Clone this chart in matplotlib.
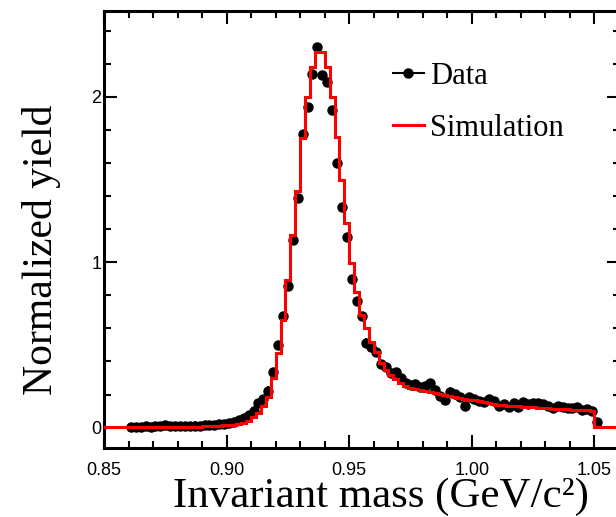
import numpy as np
import matplotlib
matplotlib.use("Agg")
import matplotlib.pyplot as plt
from matplotlib.ticker import MultipleLocator, FormatStrFormatter

# simulation histogram, 0.002 GeV bins from 0.850 to 1.060
sim_edges = np.round(np.arange(0.850, 1.0601, 0.002), 3)
sim_vals = [
    0.002, 0.002, 0.002, 0.002, 0.002, 0.002, 0.002, 0.002, 0.002, 0.002,
    0.002, 0.003, 0.003, 0.003, 0.003,
    0.004, 0.004, 0.005, 0.006, 0.007, 0.008, 0.009, 0.011, 0.012, 0.014,
    0.015, 0.018, 0.022, 0.030,
    0.042, 0.063, 0.087, 0.131, 0.187, 0.298, 0.450, 0.651, 0.892, 1.164,
    1.432, 1.749, 1.996, 2.181, 2.272, 2.272, 2.177, 1.996, 1.758, 1.497,
    1.239, 0.997, 0.822, 0.680, 0.600, 0.520, 0.460, 0.390, 0.350, 0.320,
    0.294, 0.268, 0.250, 0.238,
    0.232, 0.226, 0.220, 0.214, 0.208, 0.203, 0.198, 0.193, 0.187, 0.181,
    0.175, 0.170, 0.166, 0.161, 0.156, 0.150, 0.144, 0.138, 0.135, 0.132,
    0.130, 0.128, 0.126, 0.124, 0.122, 0.120, 0.119, 0.117, 0.115, 0.114,
    0.112, 0.110, 0.108, 0.107, 0.106, 0.104, 0.102,
    0.006, 0.006, 0.006, 0.006, 0.006,
]

# data points, bin centres from 0.861 GeV
data_start = 0.861
data_vals = [
    0.004, 0.002, 0.006, 0.008, 0.006, 0.010, 0.008, 0.018, 0.012, 0.010,
    0.008, 0.012, 0.010, 0.013, 0.012, 0.015, 0.018, 0.016, 0.020, 0.024,
    0.026, 0.032, 0.045, 0.060, 0.075, 0.103, 0.147, 0.171, 0.224, 0.338,
    0.500, 0.675, 0.856, 1.134, 1.386, 1.773, 1.940, 2.135, 2.302, 2.130,
    2.090, 1.920, 1.600, 1.335, 1.154, 0.897, 0.764, 0.673, 0.514, 0.486,
    0.460, 0.385, 0.369, 0.332, 0.338, 0.298, 0.270, 0.258, 0.264, 0.248,
    0.252, 0.268, 0.228, 0.190, 0.167, 0.218, 0.204, 0.187, 0.131, 0.183,
    0.171, 0.163, 0.157, 0.173, 0.163, 0.131, 0.143, 0.123, 0.151, 0.127,
    0.157, 0.143, 0.147, 0.151, 0.143, 0.131, 0.117, 0.131, 0.123, 0.117,
    0.117, 0.127, 0.107, 0.112, 0.100, 0.036,
]
data_err = 0.025
data_mass = np.round(data_start + 0.002 * np.arange(len(data_vals)), 3)

fig = plt.figure(figsize=(6.16, 5.17), dpi=100)
ax = fig.add_axes([0.1688, 0.1335, 0.8377, 0.8452])

ax.stairs(sim_vals, sim_edges, color="red", lw=2.2, zorder=3)
ax.errorbar(data_mass, data_vals, yerr=data_err, fmt="o", color="black",
            ms=6.5, elinewidth=1.2, capsize=0, zorder=2)

ax.set_xlim(0.85, 1.0604)
ax.set_ylim(-0.1227, 2.518)

ax.xaxis.set_major_locator(MultipleLocator(0.05))
ax.xaxis.set_minor_locator(MultipleLocator(0.01))
ax.xaxis.set_major_formatter(FormatStrFormatter("%.2f"))
ax.yaxis.set_major_locator(MultipleLocator(1))
ax.yaxis.set_minor_locator(MultipleLocator(0.2))
ax.tick_params(which="both", direction="in", top=True, right=True, width=1.5)
ax.tick_params(which="major", length=9.5)
ax.tick_params(which="minor", length=5)
ax.tick_params(axis="x", pad=10)
ax.tick_params(axis="y", pad=2)
for lab in ax.get_xticklabels() + ax.get_yticklabels():
    lab.set_family("Liberation Sans")
    lab.set_fontsize(13)
for sp in ax.spines.values():
    sp.set_linewidth(2.2)

ax.set_xlabel("Invariant mass (GeV/c²)", family="Liberation Serif", fontsize=31,
              va="baseline")
ax.xaxis.set_label_coords(0.537, -0.135)
ax.set_ylabel("Normalized yield", family="Liberation Serif", fontsize=30,
              va="center")
ax.yaxis.set_label_coords(-0.122, 0.453)

h_data, = ax.plot([], [], "-o", color="black", ms=6.5, lw=1.5)
h_sim, = ax.plot([], [], "-", color="red", lw=2.2)
ax.legend([h_data, h_sim], ["Data", "Simulation"], loc="upper left",
          bbox_to_anchor=(393 / 616, 1 - 62 / 517), bbox_transform=fig.transFigure,
          frameon=False, borderpad=0, borderaxespad=0, handlelength=1.0,
          handletextpad=0.2, labelspacing=0.75,
          prop={"family": "Liberation Serif", "size": 22})

fig.savefig("out.png", dpi=100)
